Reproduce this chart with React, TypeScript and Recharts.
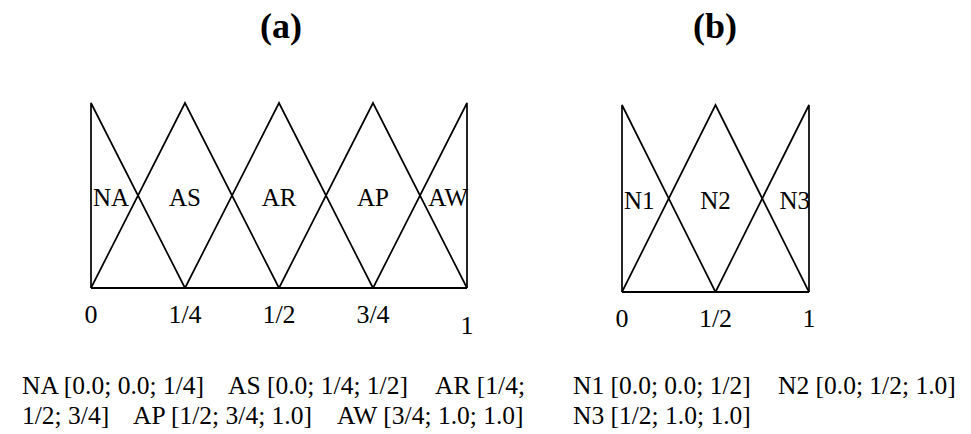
import React from 'react';
import { ComposedChart, Line, Scatter, XAxis, YAxis } from 'recharts';

// panel (a): five fuzzy sets on [0, 1]
const setNamesA = ['NA', 'AS', 'AR', 'AP', 'AW'];
const setParamsA = [
  [0, 0, 0.25],
  [0, 0.25, 0.5],
  [0.25, 0.5, 0.75],
  [0.5, 0.75, 1],
  [0.75, 1, 1],
];
const tickValuesA = [0, 0.25, 0.5, 0.75, 1];
const tickLabelsA = ['0', '1/4', '1/2', '3/4', '1'];
const captionA = [
  ['NA [0.0; 0.0; 1/4]', 'AS [0.0; 1/4; 1/2]', 'AR [1/4;'],
  ['1/2; 3/4]', 'AP [1/2; 3/4; 1.0]', 'AW [3/4; 1.0; 1.0]'],
];

// panel (b): three fuzzy sets on [0, 1]
const setNamesB = ['N1', 'N2', 'N3'];
const setParamsB = [
  [0, 0, 0.5],
  [0, 0.5, 1],
  [0.5, 1, 1],
];
const tickValuesB = [0, 0.5, 1];
const tickLabelsB = ['0', '1/2', '1'];
const captionB = [
  ['N1 [0.0; 0.0; 1/2]', 'N2 [0.0; 1/2; 1.0]'],
  ['N3 [1/2; 1.0; 1.0]'],
];

const FONT = '"Liberation Serif", "Times New Roman", serif';
const INK = '#000';

const triangle = (p: number[]) => [
  { x: p[0], y: 0 },
  { x: p[1], y: 1 },
  { x: p[2], y: 0 },
];

const labelPoints = (names: string[], params: number[][]) =>
  names.map((name, i) => ({ x: params[i][1], y: 0.5, name }));

const SetLabel = (props: any) => {
  const { cx, cy, payload } = props;
  if (cx == null || cy == null) return null;
  let anchor = 'middle';
  let dx = 0;
  if (payload.x === 0) {
    anchor = 'start';
    dx = 2;
  } else if (payload.x === 1) {
    anchor = 'end';
    dx = 1;
  }
  return (
    <text x={cx + dx} y={cy} dy={10} textAnchor={anchor} fontFamily={FONT} fontSize={25} fill={INK}>
      {payload.name}
    </text>
  );
};

const makeTick = (ticks: number[], labels: string[], dropLast: boolean) => (props: any) => {
  const { x, y, payload } = props;
  const i = ticks.indexOf(payload.value);
  const extra = dropLast && i === ticks.length - 1 ? 11 : 0;
  return (
    <text x={x} y={y} dy={35 + extra} textAnchor="middle" fontFamily={FONT} fontSize={26} fill={INK}>
      {labels[i]}
    </text>
  );
};

type PanelProps = {
  names: string[];
  params: number[][];
  ticks: number[];
  tickLabels: string[];
  dropLast: boolean;
  width: number;
  height: number;
  margin: { top: number; right: number; bottom: number; left: number };
  axisHeight: number;
};

const Panel = ({ names, params, ticks, tickLabels, dropLast, width, height, margin, axisHeight }: PanelProps) => (
  <ComposedChart width={width} height={height} margin={margin}>
    <XAxis
      type="number"
      dataKey="x"
      domain={[0, 1]}
      ticks={ticks}
      interval={0}
      height={axisHeight}
      tickSize={0}
      tickMargin={0}
      tickLine={false}
      axisLine={{ stroke: INK, strokeWidth: 1.8 }}
      tick={makeTick(ticks, tickLabels, dropLast)}
    />
    <YAxis type="number" domain={[0, 1]} hide />
    {params.map((p, i) => (
      <Line
        key={names[i]}
        data={triangle(p)}
        dataKey="y"
        type="linear"
        stroke={INK}
        strokeWidth={1.7}
        dot={false}
        activeDot={false}
        isAnimationActive={false}
      />
    ))}
    <Scatter
      data={labelPoints(names, params)}
      dataKey="y"
      shape={(p: any) => <SetLabel {...p} />}
      isAnimationActive={false}
    />
  </ComposedChart>
);

const Caption = ({ lines, starts }: { lines: string[][]; starts: number[][] }) => (
  <>
    {lines.map((line, li) =>
      line.map((seg, si) => (
        <text
          key={`${li}-${si}`}
          x={starts[li][si]}
          y={394 + li * 30}
          fontFamily={FONT}
          fontSize={25.5}
          fill={INK}
        >
          {seg}
        </text>
      ))
    )}
  </>
);

export default function App() {
  return (
    <div style={{ position: 'absolute', left: 0, top: 0, width: 971, height: 434, background: '#fff' }}>
      <div style={{ position: 'absolute', left: 0, top: 0 }}>
        <Panel
          names={setNamesA}
          params={setParamsA}
          ticks={tickValuesA}
          tickLabels={tickLabelsA}
          dropLast={true}
          width={540}
          height={350}
          margin={{ top: 103, right: 73, bottom: 0, left: 91 }}
          axisHeight={62}
        />
      </div>
      <div style={{ position: 'absolute', left: 540, top: 0 }}>
        <Panel
          names={setNamesB}
          params={setParamsB}
          ticks={tickValuesB}
          tickLabels={tickLabelsB}
          dropLast={false}
          width={340}
          height={350}
          margin={{ top: 105, right: 71, bottom: 0, left: 82 }}
          axisHeight={58}
        />
      </div>
      <svg width={971} height={434} style={{ position: 'absolute', left: 0, top: 0, pointerEvents: 'none' }}>
        <text x={281} y={38} textAnchor="middle" fontFamily={FONT} fontWeight="bold" fontSize={36} fill={INK}>
          (a)
        </text>
        <text x={715} y={38} textAnchor="middle" fontFamily={FONT} fontWeight="bold" fontSize={36} fill={INK}>
          (b)
        </text>
        <Caption lines={captionA} starts={[[22, 228, 435], [22, 133, 337]]} />
        <Caption lines={captionB} starts={[[573, 778], [573]]} />
      </svg>
    </div>
  );
}
